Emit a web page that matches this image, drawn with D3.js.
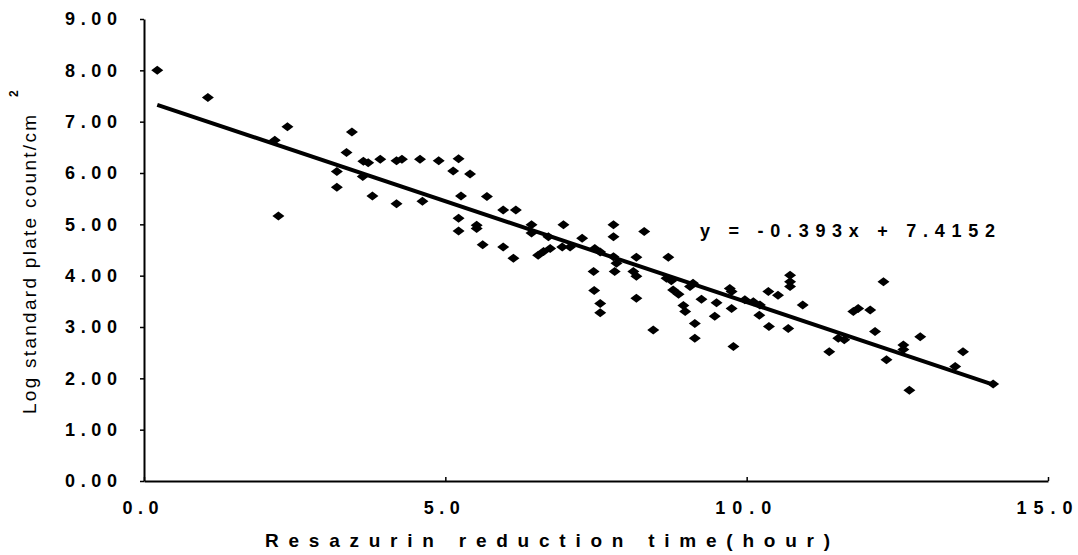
<!DOCTYPE html>
<html>
<head>
<meta charset="utf-8">
<script src="https://cdn.jsdelivr.net/npm/d3@7"></script>
<style>
  body { margin: 0; background: #fff; }
  svg { display: block; font-family: "Liberation Sans", Arial, sans-serif; }
</style>
</head>
<body>
<svg id="chart" width="1078" height="555"></svg>
<script>
// --- data ---
var timeHours = [0.22, 1.06, 2.17, 2.38, 2.23, 3.20, 3.20, 3.45, 3.36, 3.64, 3.72, 3.92, 4.19, 4.28, 4.58, 4.89,
  5.22, 5.13, 5.41, 3.63, 3.79, 4.19, 4.62, 5.26, 5.69, 5.96, 6.17, 5.22, 5.52, 5.52, 5.22, 5.62, 5.96, 6.13,
  6.43, 6.43, 6.96, 6.71, 6.54, 6.63, 6.74, 6.94, 7.07, 7.27, 7.48, 7.57, 7.79, 7.79, 8.30, 7.79, 7.84, 8.17,
  8.70, 7.46, 7.81, 8.12, 8.17, 7.47, 7.57, 7.57, 8.17, 8.45, 8.67, 8.75, 8.78, 8.87, 8.95, 8.98, 9.06, 9.11,
  9.14, 9.14, 9.25, 9.50, 9.47, 9.72, 9.75, 9.75, 9.97, 10.11, 10.22, 10.36, 10.52, 10.21, 10.37, 10.69, 10.93,
  10.72, 10.72, 10.72, 9.78, 11.77, 11.85, 12.05, 12.13, 11.52, 11.62, 11.37, 12.27, 12.32, 12.60, 12.60, 12.88,
  12.70, 13.59, 13.46, 14.09];
var logCount = [8.00, 7.47, 6.64, 6.90, 5.16, 6.03, 5.72, 6.80, 6.40, 6.23, 6.20, 6.27, 6.24, 6.27, 6.27, 6.24,
  6.28, 6.04, 5.98, 5.93, 5.55, 5.40, 5.45, 5.55, 5.54, 5.28, 5.28, 5.12, 4.98, 4.92, 4.87, 4.60, 4.56, 4.34,
  4.99, 4.83, 4.99, 4.76, 4.40, 4.47, 4.53, 4.56, 4.56, 4.73, 4.53, 4.46, 4.99, 4.76, 4.86, 4.37, 4.24, 4.36,
  4.36, 4.08, 4.08, 4.08, 3.99, 3.71, 3.46, 3.28, 3.56, 2.94, 3.95, 3.90, 3.72, 3.64, 3.42, 3.30, 3.79, 3.85,
  3.07, 2.78, 3.54, 3.47, 3.21, 3.75, 3.69, 3.36, 3.53, 3.49, 3.43, 3.69, 3.62, 3.23, 3.01, 2.97, 3.43,
  4.01, 3.88, 3.79, 2.62, 3.30, 3.36, 3.33, 2.91, 2.78, 2.75, 2.52, 3.88, 2.36, 2.65, 2.56, 2.81,
  1.77, 2.52, 2.23, 1.89];

var slope = -0.393;
var intercept = 7.4152;
var equationLabel = "y = -0.393x + 7.4152";

var xTicks = [0, 5, 10, 15];
var yTicks = [0, 1, 2, 3, 4, 5, 6, 7, 8, 9];
var xTitle = "Resazurin reduction time(hour)";
var yTitle = "Log standard plate count/cm";

var svg = d3.select("#chart");

var x = d3.scaleLinear().domain([0, 15]).range([144, 1048]);
var y = d3.scaleLinear().domain([0, 9]).range([481, 19]);

// --- axes ---
var yAxis = d3.axisLeft(y).tickValues(yTicks).tickSizeInner(4).tickSizeOuter(0)
  .tickPadding(23).tickFormat(d3.format(".2f"));
var gy = svg.append("g").attr("transform", "translate(144,0)").call(yAxis);

var xAxis = d3.axisBottom(x).tickValues(xTicks).tickSizeInner(-4).tickSizeOuter(0)
  .tickFormat(d3.format(".1f"));
var gx = svg.append("g").attr("transform", "translate(0,481)").call(xAxis);

[gx, gy].forEach(function(g) {
  g.select(".domain").attr("stroke", "#000").attr("stroke-width", 2);
  g.selectAll(".tick line").attr("stroke", "#000").attr("stroke-width", 1.5);
  g.selectAll(".tick text")
    .attr("fill", "#000")
    .attr("font-size", 18)
    .attr("font-weight", "bold")
    .attr("font-family", "Liberation Sans, Arial, sans-serif");
});

gy.selectAll(".tick text").attr("textLength", 52).attr("lengthAdjust", "spacing");
gx.selectAll(".tick text")
  .attr("y", 33).attr("dy", 0).attr("dx", -4)
  .attr("textLength", function(d) { return d >= 10 ? 56 : 36; })
  .attr("lengthAdjust", "spacing");

// axis titles
svg.append("text")
  .attr("x", 265).attr("y", 547)
  .attr("font-size", 19).attr("font-weight", "bold")
  .attr("textLength", 565).attr("lengthAdjust", "spacing")
  .text(xTitle);

svg.append("text")
  .attr("transform", "translate(36,414) rotate(-90)")
  .attr("font-size", 19)
  .attr("textLength", 299).attr("lengthAdjust", "spacing")
  .text(yTitle);

svg.append("text")
  .attr("transform", "translate(18,97) rotate(-90)")
  .attr("font-size", 12).attr("font-weight", "bold")
  .text("2");

// --- regression line ---
var xr = d3.extent(timeHours);
svg.append("line")
  .attr("x1", x(xr[0])).attr("y1", y(slope * xr[0] + intercept))
  .attr("x2", x(xr[1])).attr("y2", y(slope * xr[1] + intercept))
  .attr("stroke", "#000").attr("stroke-width", 4);

// --- points (diamonds) ---
var diamond = "M0,-4.5L6,0L0,4.5L-6,0Z";
svg.append("g").selectAll("path")
  .data(timeHours.map(function(t, i) { return [t, logCount[i]]; }))
  .join("path")
  .attr("d", diamond)
  .attr("transform", function(d) { return "translate(" + x(d[0]) + "," + y(d[1]) + ")"; })
  .attr("fill", "#000");

// equation
svg.append("text")
  .attr("x", 700).attr("y", 237)
  .attr("font-size", 18).attr("font-weight", "bold")
  .attr("textLength", 295).attr("lengthAdjust", "spacing")
  .text(equationLabel);
</script>
</body>
</html>
